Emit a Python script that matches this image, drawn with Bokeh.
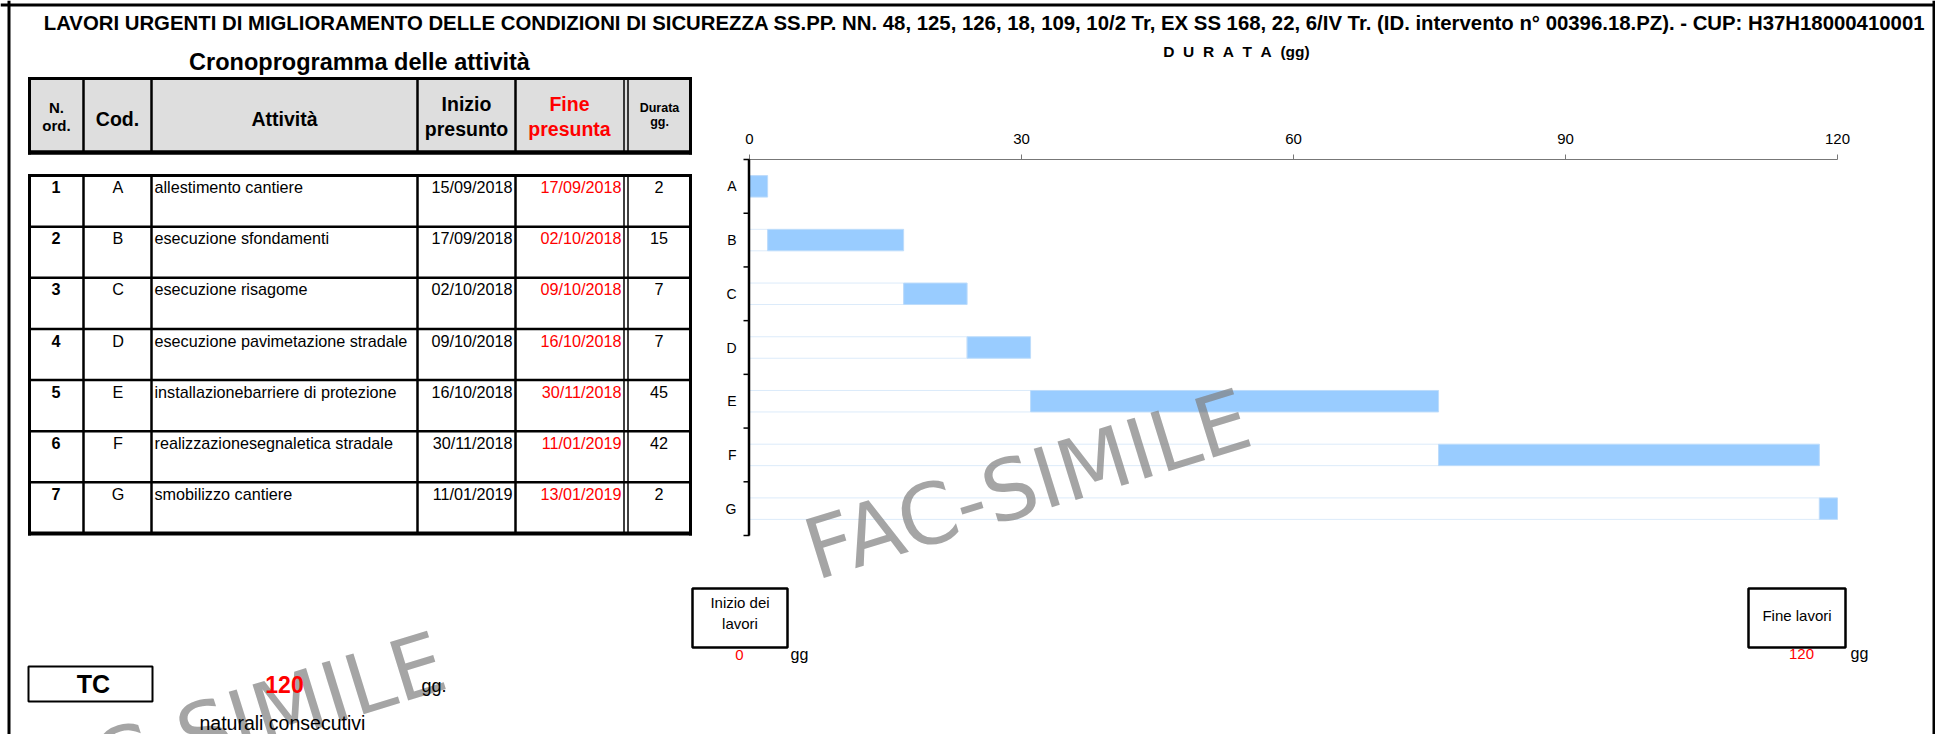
import math
from bokeh.plotting import figure
from bokeh.models import Range1d
from bokeh.core.properties import value
from bokeh.embed import file_html
from bokeh.resources import INLINE

# ---------------- data ----------------
title_text = ("LAVORI URGENTI DI MIGLIORAMENTO DELLE CONDIZIONI DI SICUREZZA SS.PP. NN. 48, 125, 126, 18, 109, "
              "10/2 Tr, EX SS 168, 22, 6/IV Tr. (ID. intervento n\u00b0 00396.18.PZ). - CUP: H37H18000410001")
durata_label = "\u00a0\u00a0".join("DURATA") + "\u00a0\u00a0(gg)"
n_ord = ["1", "2", "3", "4", "5", "6", "7"]
codes = ["A", "B", "C", "D", "E", "F", "G"]
attivita = ["allestimento cantiere", "esecuzione sfondamenti", "esecuzione risagome",
            "esecuzione pavimetazione stradale", "installazionebarriere di protezione",
            "realizzazionesegnaletica stradale", "smobilizzo cantiere"]
inizio = ["15/09/2018", "17/09/2018", "02/10/2018", "09/10/2018", "16/10/2018", "30/11/2018", "11/01/2019"]
fine = ["17/09/2018", "02/10/2018", "09/10/2018", "16/10/2018", "30/11/2018", "11/01/2019", "13/01/2019"]
durata = [2, 15, 7, 7, 45, 42, 2]
start_day = [0, 2, 17, 24, 31, 76, 118]
x_ticks = [0, 30, 60, 90, 120]
x_max = 120
tc_days = 120
inizio_lavori = 0
fine_lavori = 120

# ---------------- figure: pixel coordinates of the picture ----------------
W, H = 1935, 734
p = figure(width=W, height=H, output_backend="svg", toolbar_location=None,
           x_range=Range1d(0, W), y_range=Range1d(H, 0),
           x_axis_location=None, y_axis_location=None, min_border=0)
p.grid.visible = False
p.outline_line_color = None
p.background_fill_color = "white"
p.border_fill_color = "white"

# gantt scales
AX_L, AX_R = 749, 1837
BAND_T, BAND_B = 159, 535
sc = (AX_R - AX_L) / x_max
band = (BAND_B - BAND_T) / len(codes)
p.extra_x_ranges = {"days": Range1d((0 - AX_L) / sc, (W - AX_L) / sc)}
p.extra_y_ranges = {"rows": Range1d((H - BAND_T) / band - 0.5, (0 - BAND_T) / band - 0.5)}

F = value("Liberation Sans")
MID = 0.3465  # em-box middle above the alphabetic baseline


def txt(xs, ys, ts, size, color="black", bold=False, align="center", font=F,
        xr=None, yr=None, angle=0.0, alpha=1.0, base=True):
    """ys are baselines (pixels) unless base=False; drawn with a 'middle' baseline."""
    kw = {}
    if xr:
        kw["x_range_name"] = xr
    if yr:
        kw["y_range_name"] = yr
    if base:
        ys = [y - MID * size for y in ys]
    p.text(x=xs, y=ys, text=ts, text_font=font, text_font_size=f"{size}px", text_color=color,
           text_font_style="bold" if bold else "normal", text_align=align,
           text_baseline="middle", angle=angle, text_alpha=alpha, **kw)


def seg(x0, y0, x1, y1, w, color="black"):
    p.segment(x0=x0, y0=y0, x1=x1, y1=y1, line_color=color, line_width=w)


rows_idx = list(range(len(codes)))
ends = [s + d for s, d in zip(start_day, durata)]

# ---------------- gantt bars ----------------
p.hbar(y=rows_idx, left=[0] * len(codes), right=start_day, height=0.4,
       fill_color="white", line_color="#dcebfa", line_width=1,
       x_range_name="days", y_range_name="rows")
p.hbar(y=rows_idx, left=start_day, right=ends, height=0.4,
       fill_color="#99ccff", line_color="#bddcfb", line_width=1,
       x_range_name="days", y_range_name="rows")

# x axis (top)
p.segment(x0=[0], y0=[BAND_T], x1=[x_max], y1=[BAND_T], line_color="#777777", line_width=1.2,
          x_range_name="days")
p.segment(x0=x_ticks, y0=[BAND_T - 5] * len(x_ticks), x1=x_ticks, y1=[BAND_T] * len(x_ticks),
          line_color="#777777", line_width=1, x_range_name="days")
txt(x_ticks, [143.5] * len(x_ticks), [str(t) for t in x_ticks], 15, xr="days")
txt([1236], [56.5], [durata_label], 15.5, bold=True)

# y axis (left)
bounds = [i - 0.5 for i in range(len(codes) + 1)]
p.segment(x0=[AX_L - 0.5], y0=[bounds[0]], x1=[AX_L - 0.5], y1=[bounds[-1]],
          line_color="black", line_width=2.5, y_range_name="rows")
p.segment(x0=[AX_L - 6] * len(bounds), y0=bounds, x1=[AX_L] * len(bounds), y1=bounds,
          line_color="black", line_width=1.5, y_range_name="rows")
txt([736] * len(codes), rows_idx, codes, 14, align="right", yr="rows", base=False)

# ---------------- watermarks ----------------
ang = math.radians(17.2)
txt([1247, 442], [416, 659], ["FAC-SIMILE", "FAC-SIMILE"], 84, color="#7f7f7f",
    align="right", font=value("DejaVu Sans"), angle=ang, alpha=0.7, base=False)

# ---------------- outer frame ----------------
seg([8.5], [0], [8.5], [H], 3)
seg([0], [4.5], [W], [4.5], 3)
seg([W - 1.5], [0], [W - 1.5], [H], 3)

# ---------------- titles ----------------
txt([984], [30], [title_text], 20.35, bold=True)
txt([359], [70], ["Cronoprogramma delle attivit\u00e0"], 23.5, bold=True)

# ---------------- table ----------------
TL, TR = 29, 690
col_lines = [83, 151, 417, 515]
dbl = [623.5, 627.5]
HT, HB = 78, 152
p.quad(left=[TL], right=[TR], top=[HT], bottom=[HB], fill_color="#dedede", line_color=None)
seg(col_lines, [HT] * 4, col_lines, [HB] * 4, 2.5)
seg(dbl, [HT] * 2, dbl, [HB] * 2, 1.5)
seg([TL - 1.5], [HT], [TR + 1.5], [HT], 3)
seg([TL - 1.5], [HB], [TR + 1.5], [HB], 4.5)
seg([TL, TR], [HT - 1.5, HT - 1.5], [TL, TR], [HB + 2, HB + 2], 3)

txt([56], [112.5], ["N."], 15, bold=True)
txt([56], [130], ["ord."], 15, bold=True)
txt([117], [125], ["Cod."], 19.5, bold=True)
txt([284], [125], ["Attivit\u00e0"], 19.5, bold=True)
txt([466], [110.5], ["Inizio"], 19.5, bold=True)
txt([466], [135.5], ["presunto"], 19.5, bold=True)
txt([569], [110.5], ["Fine"], 19.5, bold=True, color="#ff0000")
txt([569], [135.5], ["presunta"], 19.5, bold=True, color="#ff0000")
txt([659], [112], ["Durata"], 12.5, bold=True)
txt([659], [125.5], ["gg."], 12.5, bold=True)

DT, RH = 175, 51.14
n = len(codes)
DB = DT + RH * n
row_tops = [DT + RH * i for i in range(n)]
seg([TL - 1.5], [DT], [TR + 1.5], [DT], 3)
seg([TL - 1.5], [DB], [TR + 1.5], [DB], 4)
seg([TL] * (n - 1), row_tops[1:], [TR] * (n - 1), row_tops[1:], 2.5)
seg([TL, TR], [DT - 1.5, DT - 1.5], [TL, TR], [DB + 2, DB + 2], 3)
seg(col_lines, [DT] * 4, col_lines, [DB] * 4, 2.5)
seg(dbl, [DT] * 2, dbl, [DB] * 2, 1.5)

base = [t + 17.2 for t in row_tops]
txt([55.5] * n, base, n_ord, 16.2, bold=True)
txt([117.5] * n, base, codes, 16.2)
txt([154] * n, base, attivita, 16.2, align="left")
txt([512] * n, base, inizio, 16.2, align="right")
txt([621] * n, base, fine, 16.2, align="right", color="#ff0000")
txt([658.5] * n, base, [str(d) for d in durata], 16.2)

# ---------------- bottom boxes ----------------
p.quad(left=[692, 1748], right=[787, 1845], top=[588, 588], bottom=[647, 647],
       fill_color=None, line_color="black", line_width=2.5)
txt([739.5], [607], ["Inizio dei"], 15)
txt([739.5], [628], ["lavori"], 15)
txt([1796.5], [620], ["Fine lavori"], 15)
txt([739, 1801], [660, 659], [str(inizio_lavori), str(fine_lavori)], 15, color="#ff0000")
txt([790, 1850], [660, 659], ["gg", "gg"], 16, align="left")

p.quad(left=[28], right=[152], top=[666], bottom=[701], fill_color=None, line_color="black", line_width=2)
txt([93], [692], ["TC"], 25, bold=True)
txt([284], [692], [str(tc_days)], 23, bold=True, color="#ff0000")
txt([421], [692], ["gg."], 18, align="left")
txt([199], [729.5], ["naturali consecutivi"], 19.5, align="left")

open("out.html", "w").write(file_html(p, INLINE))
